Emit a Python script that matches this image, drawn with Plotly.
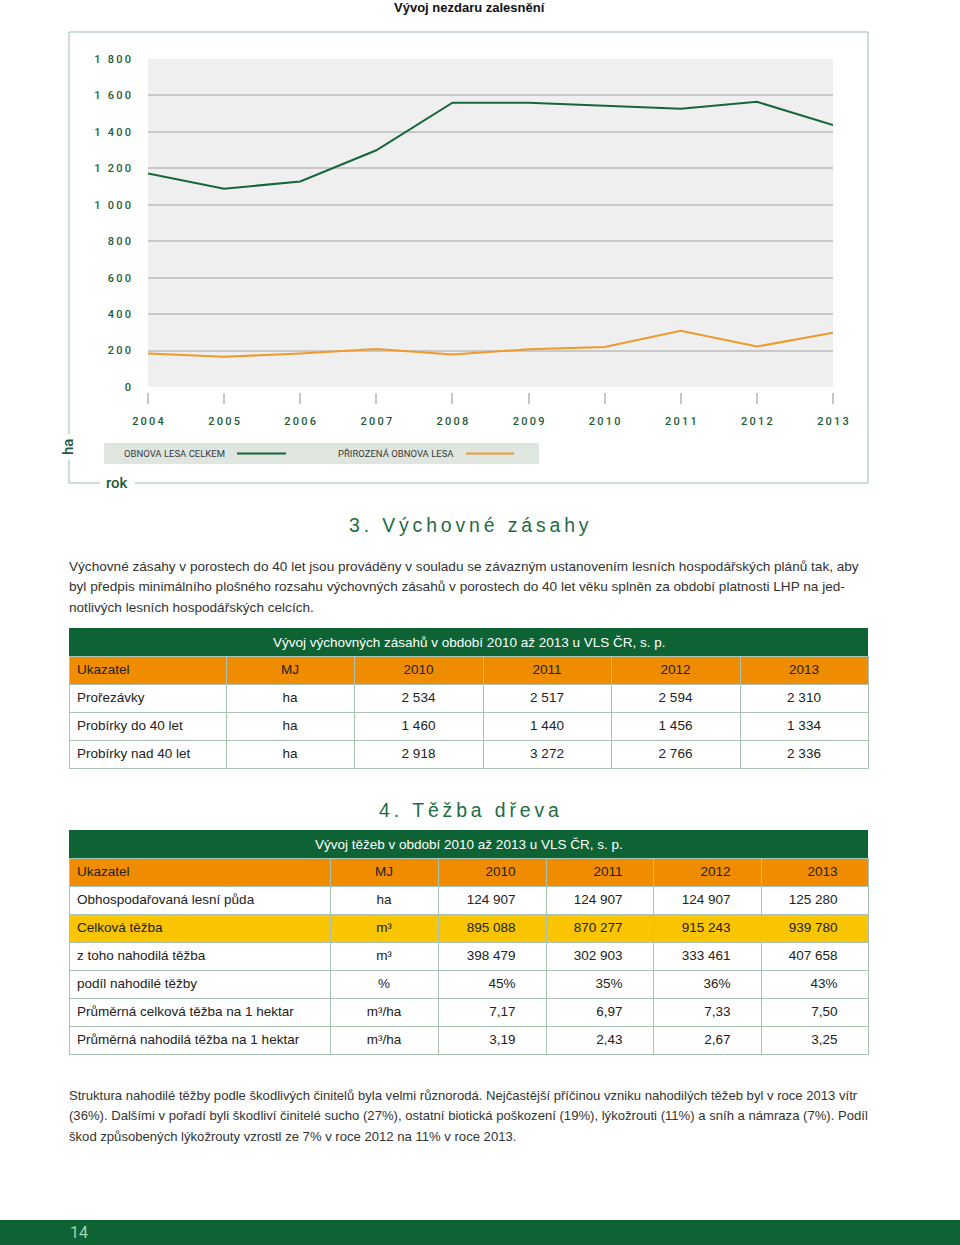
import plotly.graph_objects as go

W, H = 960, 1245

# ---------------- data ----------------
YEARS = [2004, 2005, 2006, 2007, 2008, 2009, 2010, 2011, 2012, 2013]
OBNOVA_CELKEM = [1172, 1088, 1128, 1299, 1560, 1560, 1543, 1527, 1565, 1438]
PRIROZENA_OBNOVA = [184, 166, 184, 209, 178, 207, 220, 309, 222, 298]
Y_TICKS = [0, 200, 400, 600, 800, 1000, 1200, 1400, 1600, 1800]
Y_TICK_LABELS = ["0", "200", "400", "600", "800", "1 000", "1 200", "1 400", "1 600", "1 800"]

T1_TITLE = "Vývoj výchovných zásahů v období 2010 až 2013 u VLS ČR, s. p."
T1_HEADER = ["Ukazatel", "MJ", "2010", "2011", "2012", "2013"]
T1_UKAZATEL = ["Prořezávky", "Probírky do 40 let", "Probírky nad 40 let"]
T1_MJ = ["ha", "ha", "ha"]
T1_2010 = [2534, 1460, 2918]
T1_2011 = [2517, 1440, 3272]
T1_2012 = [2594, 1456, 2766]
T1_2013 = [2310, 1334, 2336]

T2_TITLE = "Vývoj těžeb v období 2010 až 2013 u VLS ČR, s. p."
T2_HEADER = ["Ukazatel", "MJ", "2010", "2011", "2012", "2013"]
T2_UKAZATEL = ["Obhospodařovaná lesní půda", "Celková těžba", "z toho nahodilá těžba",
               "podíl nahodilé těžby", "Průměrná celková těžba na 1 hektar",
               "Průměrná nahodilá těžba na 1 hektar"]
T2_MJ = ["ha", "m³", "m³", "%", "m³/ha", "m³/ha"]
T2_2010 = [124907, 895088, 398479, 45, 7.17, 3.19]
T2_2011 = [124907, 870277, 302903, 35, 6.97, 2.43]
T2_2012 = [124907, 915243, 333461, 36, 7.33, 2.67]
T2_2013 = [125280, 939780, 407658, 43, 7.50, 3.25]
T2_KIND = ["int", "int", "int", "pct", "dec", "dec"]

PARA1 = [
    "Výchovné zásahy v porostech do 40 let jsou prováděny v souladu se závazným ustanovením lesních hospodářských plánů tak, aby",
    "byl předpis minimálního plošného rozsahu výchovných zásahů v porostech do 40 let věku splněn za období platnosti LHP na jed-",
    "notlivých lesních hospodářských celcích.",
]
PARA2 = [
    "Struktura nahodilé těžby podle škodlivých činitelů byla velmi různorodá. Nejčastější příčinou vzniku nahodilých těžeb byl v roce 2013 vítr",
    "(36%). Dalšími v pořadí byli škodliví činitelé sucho (27%), ostatní biotická poškození (19%), lýkožrouti (11%) a sníh a námraza (7%). Podíl",
    "škod způsobených lýkožrouty vzrostl ze 7% v roce 2012 na 11% v roce 2013.",
]

# ---------------- styles ----------------
GREEN = "#17663b"
DKGREEN = "#0d6333"
ORANGE = "#ee9a2e"
HDR_ORANGE = "#f08c00"
YELLOW = "#f9c400"
BORDER = "#9dbcab"
CELL_LINE = "#a9c4b2"
TXT = "#333333"
AXFONT = "Roboto"
BODYFONT = "Liberation Sans"
NBSP = "\u00a0"
PADR = "\u2007\u2007\u2007"


def px(x):
    return x / W


def py(y):
    return 1 - y / H


def spaced(s, sep="\u2009"):
    return sep.join(list(s))


def fmt_int(v):
    return f"{v:,}".replace(",", NBSP)


def fmt(v, kind):
    if kind == "int":
        return fmt_int(v)
    if kind == "pct":
        return f"{v}%"
    return f"{v:.2f}".replace(".", ",")


fig = go.Figure()

# ---------------- line chart ----------------
fig.add_trace(go.Scatter(x=YEARS, y=OBNOVA_CELKEM, mode="lines", name="OBNOVA LESA CELKEM",
                         line=dict(color=GREEN, width=2), showlegend=False, hoverinfo="skip"))
fig.add_trace(go.Scatter(x=YEARS, y=PRIROZENA_OBNOVA, mode="lines", name="PŘIROZENÁ OBNOVA LESA",
                         line=dict(color=ORANGE, width=2), showlegend=False, hoverinfo="skip"))

fig.update_layout(
    xaxis=dict(domain=[px(148), px(833)], range=[2004, 2013], anchor="free", position=py(392),
               tickvals=YEARS, ticktext=[spaced(str(y)) for y in YEARS],
               ticks="outside", ticklen=11, tickwidth=1.5, tickcolor="#c6c6c6",
               showgrid=False, zeroline=False, showline=False, ticklabelstandoff=8,
               automargin=False,
               tickfont=dict(family=AXFONT, size=11, color="#1d5c3a", weight=500)),
    yaxis=dict(domain=[py(387), py(59)], range=[0, 1800],
               tickvals=Y_TICKS, ticktext=[spaced(t) for t in Y_TICK_LABELS],
               showgrid=True, gridcolor="#c8c8c8", gridwidth=1.5, zeroline=False, showline=False,
               ticks="", ticklabelstandoff=16, automargin=False,
               tickfont=dict(family=AXFONT, size=11, color="#1d5c3a", weight=500)),
    plot_bgcolor="#efefef",
    paper_bgcolor="white",
)

shapes = []
annotations = []


def line(x0, y0, x1, y1, color=BORDER, width=1):
    shapes.append(dict(type="line", xref="paper", yref="paper", x0=px(x0), y0=py(y0),
                       x1=px(x1), y1=py(y1), line=dict(color=color, width=width)))


def rect(x0, y0, x1, y1, fill, lc=None):
    shapes.append(dict(type="rect", xref="paper", yref="paper", x0=px(x0), y0=py(y0),
                       x1=px(x1), y1=py(y1), fillcolor=fill, layer="below",
                       line=dict(width=0 if lc is None else 1, color=lc or fill)))


def text(x, y, s, size=13, color=TXT, family=BODYFONT, xanchor="left", angle=0, weight=None):
    f = dict(size=size, color=color, family=family)
    if weight:
        f["weight"] = weight
    annotations.append(dict(x=px(x), y=py(y), xref="paper", yref="paper", text=s, showarrow=False,
                            xanchor=xanchor, yanchor="middle", font=f, textangle=angle))


# chart title
text(469, 7, "Vývoj nezdaru zalesnění", size=13, color="#111111", xanchor="center", weight="bold")

# chart frame
line(69, 32, 868, 32)
line(868, 32, 868, 483)
line(69, 32, 69, 434)
line(69, 460, 69, 483)
line(69, 483, 100, 483)
line(135, 483, 868, 483)
text(68, 447, "ha", size=15, color="#1d5c3a", family=AXFONT, xanchor="center", angle=-90, weight=500)
text(117, 483, "rok", size=15, color="#1d5c3a", family=AXFONT, xanchor="center", weight=500)

# legend
rect(104, 443, 539, 464, "#dfe6df")
text(122, 453.5, "OBNOVA LESA CELKEM", size=9.5, color="#3a3a3a", family=AXFONT)
line(237, 453.5, 286, 453.5, color=GREEN, width=2)
text(336, 453.5, "PŘIROZENÁ OBNOVA LESA", size=9.5, color="#3a3a3a", family=AXFONT)
line(466, 453.5, 514, 453.5, color=ORANGE, width=2)

# section 3
text(469, 525, spaced("3. Výchovné zásahy"), size=19.4, color="#1e6b45", xanchor="center")
for i, s in enumerate(PARA1):
    text(67, 566 + i * 20.5, s, size=13.6)

# table 1
rect(69, 628, 868, 656, DKGREEN)
text(469, 642, T1_TITLE, size=13.5, color="white", xanchor="center")

t1_cols = [T1_UKAZATEL, T1_MJ] + [[fmt_int(v) for v in c] for c in (T1_2010, T1_2011, T1_2012, T1_2013)]
fig.add_trace(go.Table(
    domain=dict(x=[px(69), px(868)], y=[py(772), py(656)]),
    columnwidth=[157, 128, 129, 128, 129, 128],
    header=dict(values=T1_HEADER, fill_color=HDR_ORANGE, height=28,
                align=["left", "center", "center", "center", "center", "center"],
                line=dict(color=CELL_LINE, width=1),
                font=dict(family=BODYFONT, size=13.5, color="#222222")),
    cells=dict(values=t1_cols, fill_color="white", height=28,
               align=["left", "center", "center", "center", "center", "center"],
               line=dict(color=CELL_LINE, width=1),
               font=dict(family=BODYFONT, size=13.5, color="#222222")),
))

# section 4
text(469, 810, spaced("4. Těžba dřeva"), size=19.4, color="#1e6b45", xanchor="center")

rect(69, 830, 868, 858, DKGREEN)
text(469, 844, T2_TITLE, size=13.5, color="white", xanchor="center")

t2_cols = [T2_UKAZATEL, T2_MJ] + [[fmt(v, k) for v, k in zip(c, T2_KIND)]
                                   for c in (T2_2010, T2_2011, T2_2012, T2_2013)]
row_fill = ["white", YELLOW, "white", "white", "white", "white"]
fig.add_trace(go.Table(
    domain=dict(x=[px(69), px(868)], y=[py(1058), py(858)]),
    columnwidth=[261, 108, 108, 107, 108, 107],
    header=dict(values=T2_HEADER, fill_color=HDR_ORANGE, height=28,
                align=["left", "center", "right", "right", "right", "right"],
                suffix=["", "", PADR, PADR, PADR, PADR],
                line=dict(color=CELL_LINE, width=1),
                font=dict(family=BODYFONT, size=13.5, color="#222222")),
    cells=dict(values=t2_cols, fill_color=[row_fill] * 6, height=28,
               align=["left", "center", "right", "right", "right", "right"],
               suffix=["", "", PADR, PADR, PADR, PADR],
               line=dict(color=CELL_LINE, width=1),
               font=dict(family=BODYFONT, size=13.5, color="#222222")),
))

for i, s in enumerate(PARA2):
    text(67, 1095 + i * 20.5, s, size=13.1)

# footer
rect(0, 1220, 960, 1245, DKGREEN)
text(79, 1232, "14", size=16, color="#a5d3b3", family=AXFONT, xanchor="center")

fig.update_layout(width=W, height=H, autosize=False,
                  margin=dict(l=0, r=0, t=0, b=0, pad=0, autoexpand=False),
                  shapes=shapes, annotations=annotations)

fig.write_html("out.html", config={"displayModeBar": False},
               post_script="document.body.style.margin='0';document.body.style.overflow='hidden';")
